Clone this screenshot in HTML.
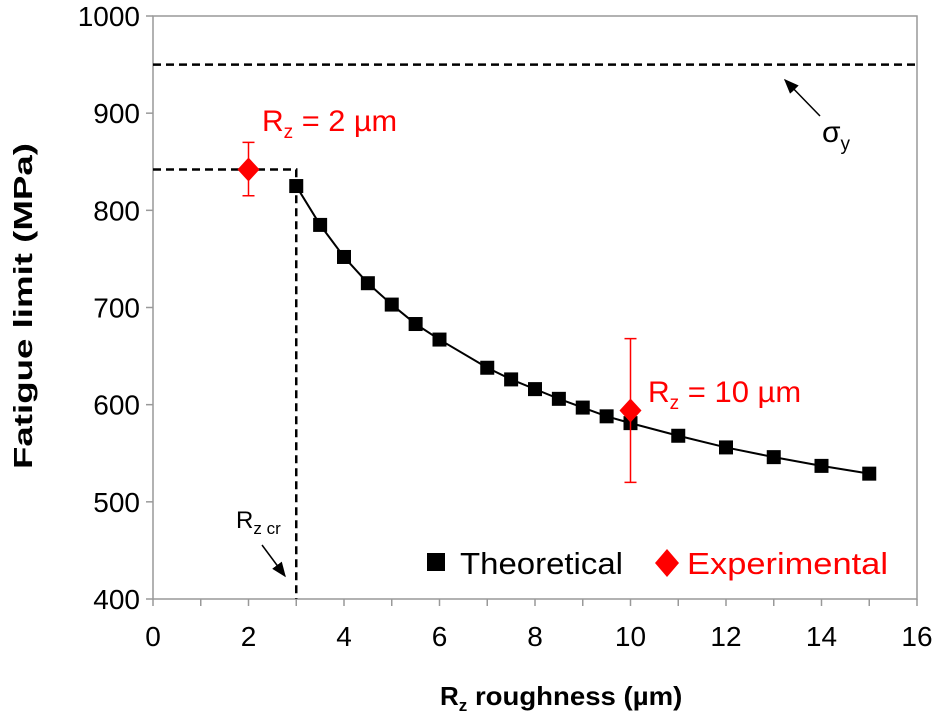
<!DOCTYPE html>
<html><head><meta charset="utf-8"><style>
body{margin:0;background:#fff}
svg{display:block;font-family:"Liberation Sans",Arial,sans-serif}
</style></head><body>
<svg id="chart" width="935" height="721" viewBox="0 0 935 721">
<defs><marker id="ah" markerWidth="10" markerHeight="10" refX="9" refY="5" orient="auto"><path d="M0,1 L10,5 L0,9 z" fill="#000"/></marker></defs>
<rect x="153" y="16" width="764" height="583" fill="none" stroke="#999" stroke-width="1.5"/>
<g id="axes"></g>
<g id="marks"></g>
<text x="32" y="306" transform="rotate(-90 32 306)" text-anchor="middle" font-weight="bold" font-size="26" textLength="326" lengthAdjust="spacingAndGlyphs">Fatigue limit (MPa)</text>
<text x="440" y="705" font-weight="bold" font-size="26">R<tspan font-size="17" dy="6">z</tspan><tspan dy="-6" textLength="215" lengthAdjust="spacingAndGlyphs"> roughness (µm)</tspan></text>
<text x="262" y="131" fill="#f00" font-size="30">R<tspan font-size="19" dy="7">z</tspan><tspan dy="-7" textLength="104" lengthAdjust="spacingAndGlyphs"> = 2 µm</tspan></text>
<text x="648" y="402" fill="#f00" font-size="30">R<tspan font-size="19" dy="7">z</tspan><tspan dy="-7" textLength="122" lengthAdjust="spacingAndGlyphs"> = 10 µm</tspan></text>
<text x="822" y="142" font-size="30">σ<tspan font-size="19" dy="8">y</tspan></text>
<line x1="820" y1="116" x2="785" y2="80" stroke="#000" stroke-width="1.5" marker-end="url(#ah)"/>
<text x="236" y="528" font-size="24">R<tspan font-size="17" dy="6">z cr</tspan></text>
<line x1="262" y1="545" x2="285" y2="576" stroke="#000" stroke-width="1.5" marker-end="url(#ah)"/>
<rect x="427" y="553" width="18" height="18" fill="#000"/>
<text x="460" y="574" font-size="31" textLength="163" lengthAdjust="spacingAndGlyphs">Theoretical</text>
<path d="M667,549 L679,563 L667,577 L655,563 z" fill="#f00"/>
<text x="687" y="574" font-size="31" fill="#f00" textLength="201" lengthAdjust="spacingAndGlyphs">Experimental</text>
</svg>
<script>
const thX=[3,3.5,4,4.5,5,5.5,6,7,7.5,8,8.5,9,9.5,10,11,12,13,14,15];
const thY=[825,785,752,725,703,683,667,638,626,616,606,597,588,581,568,556,546,537,529];
const exX=[2,10];
const exY=[842,594];
const exLo=[815,520];
const exHi=[870,668];
const xTicks=[0,2,4,6,8,10,12,14,16];
const yTicks=[400,500,600,700,800,900,1000];
const sigmaY=950, rzcr=3, rzcrY=842;
const X=v=>153+v*764/16, Y=v=>599-(v-400)*583/600;
const NS="http://www.w3.org/2000/svg";
function mk(p,t,a){const e=document.createElementNS(NS,t);for(const k in a)e.setAttribute(k,a[k]);p.appendChild(e);return e;}
const ax=document.getElementById('axes'), mg=document.getElementById('marks');
for(let v=0;v<=16;v++){const l=mk(ax,'line',{x1:X(v),x2:X(v),y1:599,y2:606,stroke:'#999','stroke-width':1.5});

}
xTicks.forEach(v=>{const t=mk(ax,'text',{x:X(v),y:646,'text-anchor':'middle','font-size':28});t.textContent=v;

});
yTicks.forEach(v=>{const l=mk(ax,'line',{x1:146,x2:153,y1:Y(v),y2:Y(v),stroke:'#999','stroke-width':1.5});


const t=mk(ax,'text',{x:140,y:Y(v)+10,'text-anchor':'end','font-size':28});t.textContent=v;

});
const d={stroke:'#000','stroke-width':2.5,'stroke-dasharray':'8,5',fill:'none'};
let l=mk(mg,'line',Object.assign({x1:X(0),x2:X(16),y1:Y(sigmaY),y2:Y(sigmaY)},d));


l=mk(mg,'polyline',Object.assign({points:`${X(0)},${Y(rzcrY)} ${X(rzcr)},${Y(rzcrY)} ${X(rzcr)},${Y(400)}`},d));


l=mk(mg,'polyline',{points:thX.map((x,i)=>X(x)+','+Y(thY[i])).join(' '),stroke:'#000','stroke-width':2,fill:'none'});


thX.forEach((x,i)=>{const r=mk(mg,'rect',{x:X(x)-7,y:Y(thY[i])-7,width:14,height:14,fill:'#000'});

});
exX.forEach((x,i)=>{const cx=X(x),lo=Y(exLo[i]),hi=Y(exHi[i]);
const g=mk(mg,'path',{d:`M${cx},${lo}V${hi}M${cx-6},${lo}H${cx+6}M${cx-6},${hi}H${cx+6}`,stroke:'#f00','stroke-width':1.5,fill:'none'});


const cy=Y(exY[i]);
const p=mk(mg,'path',{d:`M${cx},${cy-12}L${cx+11},${cy}L${cx},${cy+12}L${cx-11},${cy}z`,fill:'#f00'});

});
</script>
</body></html>
